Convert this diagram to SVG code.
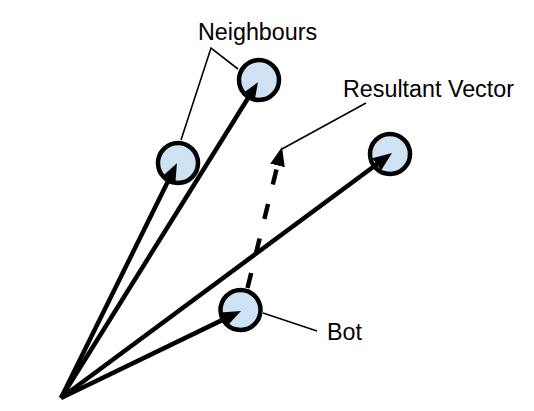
<svg xmlns="http://www.w3.org/2000/svg" width="534" height="411" viewBox="0 0 534 411">
<style>
.agent{fill:#cfe2f3;stroke:#000;stroke-width:4.5}
.vec{fill:none;stroke:#000;stroke-width:4.5;marker-end:url(#ah)}
.dash{stroke-dasharray:15.5 20}
.lead{fill:none;stroke:#000;stroke-width:1.6}
.lbl{font-family:"Liberation Sans",Arial,sans-serif;font-size:23.3px;fill:#000}
</style>
<defs>
<marker id="ah" markerUnits="userSpaceOnUse" markerWidth="22" markerHeight="18" viewBox="0 -9 22 18" refX="6" refY="0" orient="auto">
<path d="M0,-7.5 L19,0 L0,7.5 Z" fill="#000"/>
</marker>
</defs>
<rect width="534" height="411" fill="#fff"/>
<g id="neighbour1"><circle class="agent" cx="178" cy="163" r="20"/></g>
<g id="neighbour2"><circle class="agent" cx="259" cy="80" r="20"/></g>
<g id="neighbour3"><circle class="agent" cx="390" cy="154" r="20"/></g>
<g id="bot"><circle class="agent" cx="240.5" cy="310" r="20"/></g>
<g id="connectors">
<path class="vec" d="M61,398 L171.2,174.8"/>
<path class="vec" d="M61,398 L251.1,93.2"/>
<path class="vec" d="M61,398 L381.55,160.7"/>
<path class="vec" d="M61,398 L229.3,316.6"/>
<path class="vec dash" d="M247.5,288 L278.9,159.6"/>
<path class="lead" d="M181,140 L211,48 L238,69"/>
<path class="lead" d="M366,103 L282,149"/>
<path class="lead" d="M263,313 L317,331"/>
</g>
<g id="label-neighbours"><text class="lbl" x="198" y="40">Neighbours</text></g>
<g id="label-resultant"><text class="lbl" x="343" y="97">Resultant Vector</text></g>
<g id="label-bot"><text class="lbl" x="327" y="340">Bot</text></g>
</svg>
